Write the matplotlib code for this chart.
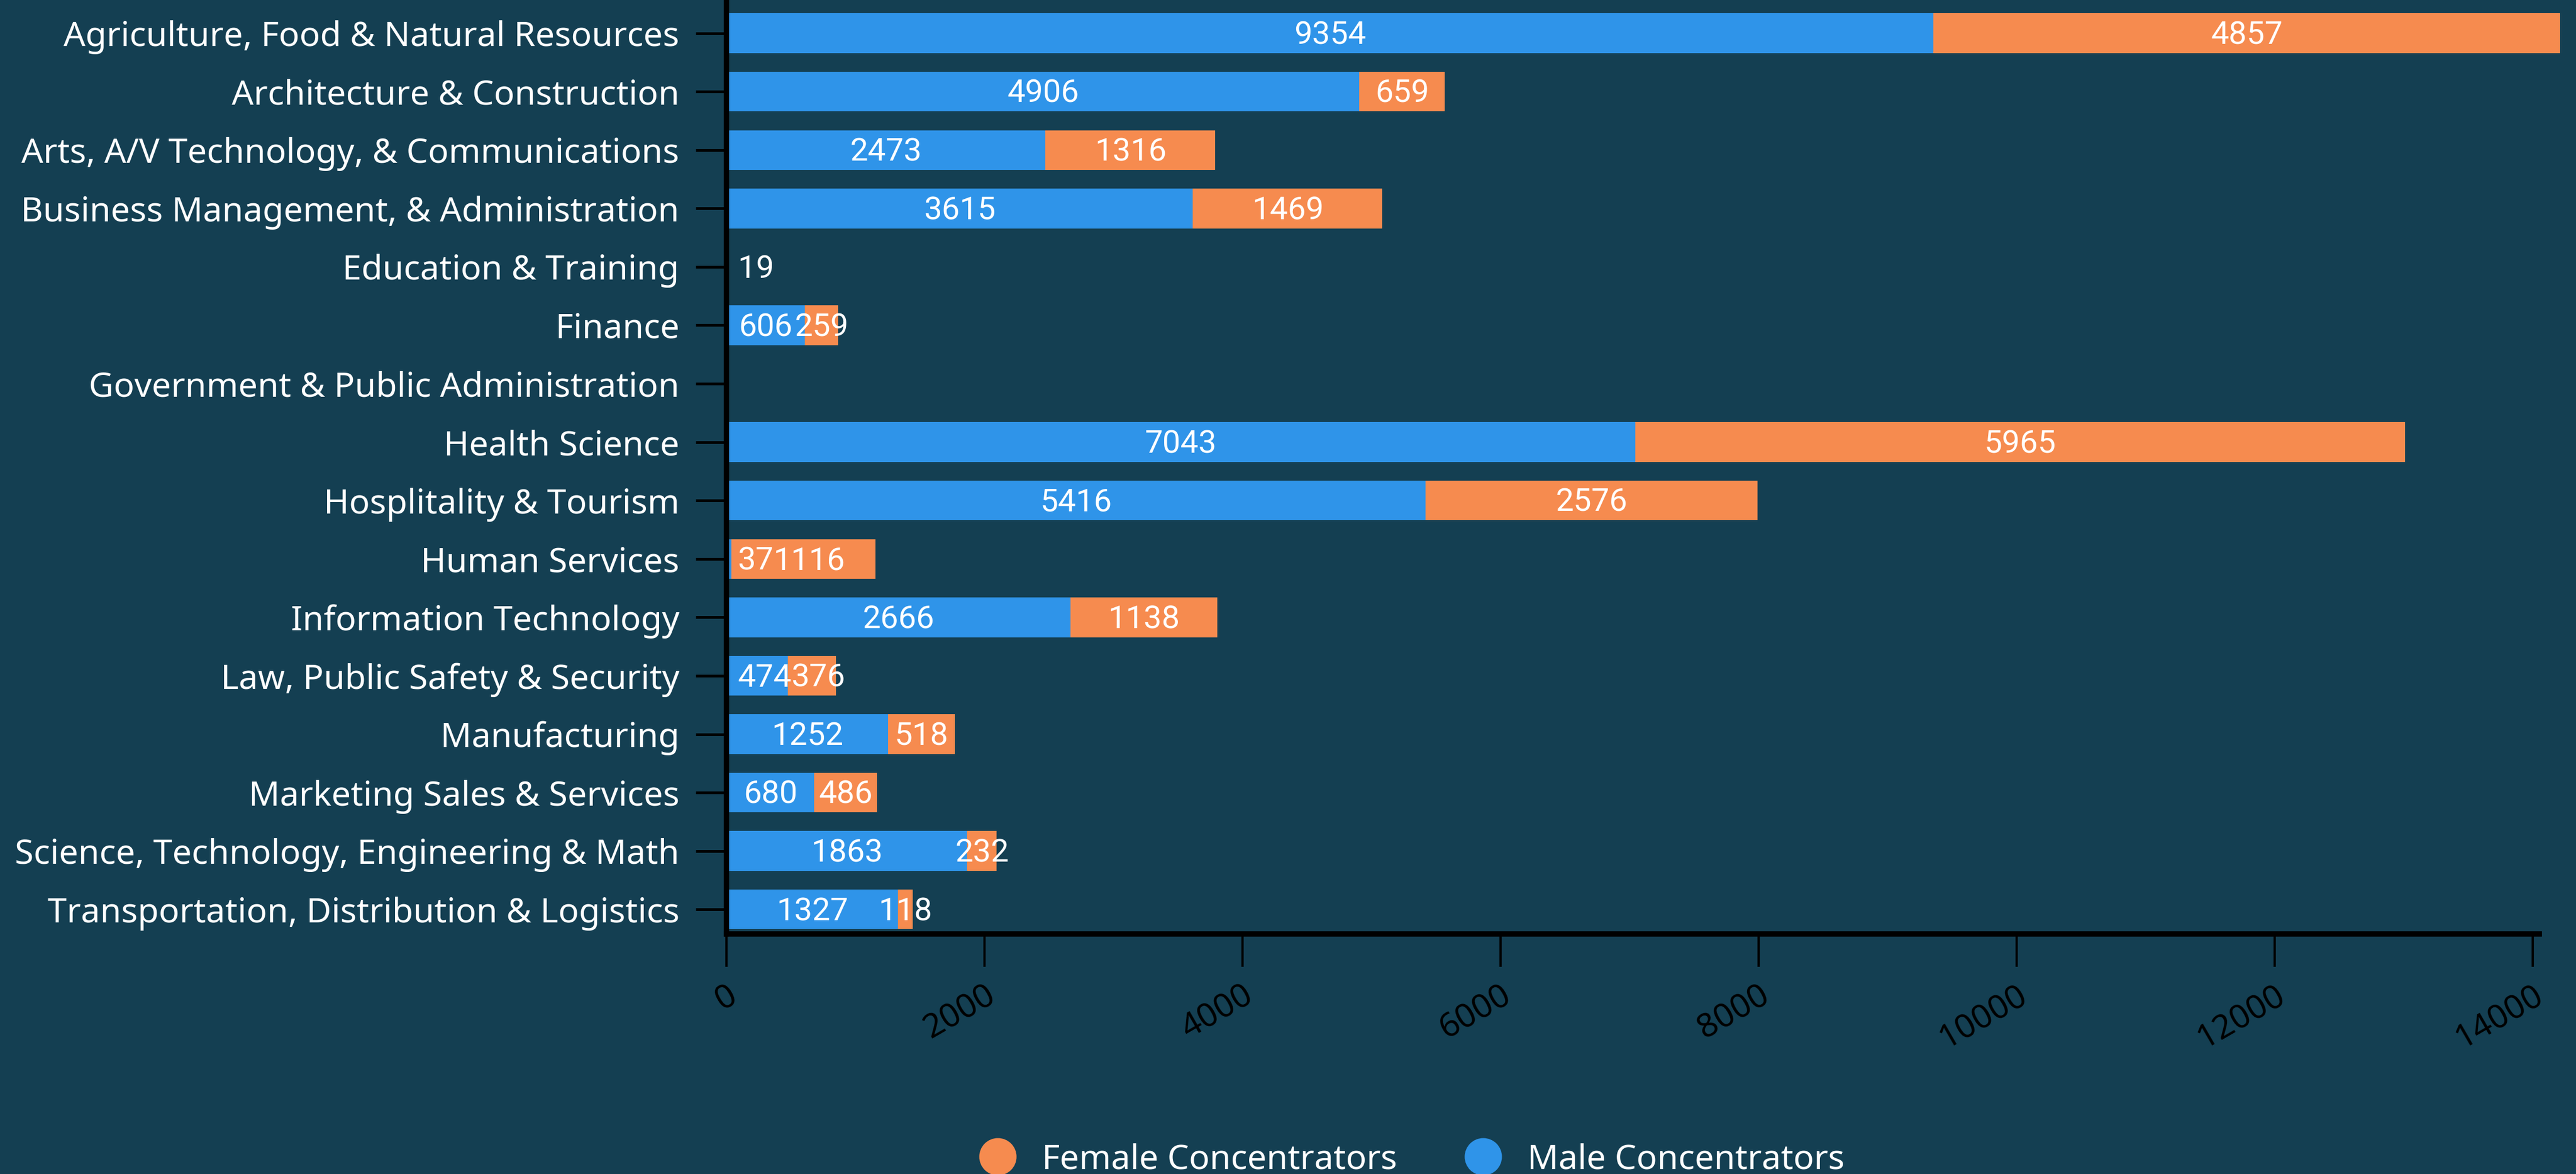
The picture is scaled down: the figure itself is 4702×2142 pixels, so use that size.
import matplotlib
matplotlib.use("Agg")
import matplotlib.pyplot as plt
import matplotlib.transforms as mtransforms
from matplotlib.lines import Line2D
import numpy as np

categories = [
    "Agriculture, Food & Natural Resources",
    "Architecture & Construction",
    "Arts, A/V Technology, & Communications",
    "Business Management, & Administration",
    "Education & Training",
    "Finance",
    "Government & Public Administration",
    "Health Science",
    "Hosplitality & Tourism",
    "Human Services",
    "Information Technology",
    "Law, Public Safety & Security",
    "Manufacturing",
    "Marketing Sales & Services",
    "Science, Technology, Engineering & Math",
    "Transportation, Distribution & Logistics",
]
male = [9354, 4906, 2473, 3615, 1, 606, 0, 7043, 5416, 37, 2666, 474, 1252, 680, 1863, 1327]
female = [4857, 659, 1316, 1469, 9, 259, 0, 5965, 2576, 1116, 1138, 376, 518, 486, 232, 118]
xticks = [0, 2000, 4000, 6000, 8000, 10000, 12000, 14000]

bg = "#143f52"
blue = "#2f94e9"
orange = "#f68b4f"
label_font = ["Noto Sans", "DejaVu Sans"]
num_font = ["Roboto", "DejaVu Sans"]

fig = plt.figure(figsize=(47.02, 21.42), dpi=100, facecolor=bg)
ax = fig.add_axes([1326 / 4702, 1 - 1704 / 2142, (4635 - 1326) / 4702, (1704 - 2) / 2142])
ax.set_facecolor(bg)

y = np.arange(len(categories))
bm = ax.barh(y, male, height=0.68, color=blue, clip_on=False, zorder=2)
bf = ax.barh(y, female, left=male, height=0.68, color=orange, clip_on=False, zorder=2)

ax.set_xlim(0, 14050)
ax.set_ylim(15.42, -0.55)
ax.set_xticks(xticks)
ax.set_xticklabels([str(t) for t in xticks], rotation=30, ha="right", rotation_mode="anchor",
                   family=label_font, fontsize=44, color="#000000")
shift = mtransforms.ScaledTranslation(-20 / 100, 0, fig.dpi_scale_trans)
for lbl in ax.get_xticklabels():
    lbl.set_transform(lbl.get_transform() + shift)
ax.set_yticks(y)
ax.set_yticklabels(categories, family=label_font, fontsize=45, color="white")
ax.tick_params(axis="y", length=40, width=3.6, color="black", pad=22)
ax.tick_params(axis="x", length=43, width=3, color="black", pad=16)
for s in ["top", "right"]:
    ax.spines[s].set_visible(False)
for s in ["left", "bottom"]:
    ax.spines[s].set_linewidth(7)
    ax.spines[s].set_color("black")
    ax.spines[s].set_zorder(3)

# value labels, centred on each segment but kept clear of the axis
texts = []
for i in range(len(categories)):
    row = []
    for start, val in [(0, male[i]), (male[i], female[i])]:
        if val == 0:
            row.append(None)
            continue
        t = ax.text(start + val / 2, i + 0.04, str(val), ha="center", va="center",
                    color="white", fontsize=42, family=num_font, zorder=4)
        row.append(t)
    texts.append(row)

fig.canvas.draw()
r = fig.canvas.get_renderer()
x0 = ax.transData.transform((0, 0))[0] + 20
inv = ax.transData.inverted()
for i, row in enumerate(texts):
    min_left = x0
    for t in row:
        if t is None:
            continue
        bb = t.get_window_extent(r)
        dx = max(0, min_left - bb.x0)
        if dx > 0:
            cx = ax.transData.transform(t.get_position())
            t.set_position(inv.transform((cx[0] + dx, cx[1])))
        min_left = bb.x1 + dx

handles = [
    Line2D([], [], marker="o", linestyle="none", markersize=48, markerfacecolor=orange, markeredgecolor=orange),
    Line2D([], [], marker="o", linestyle="none", markersize=48, markerfacecolor=blue, markeredgecolor=blue),
]
leg = fig.legend(handles, ["Female Concentrators", "Male Concentrators"], loc="center",
                 bbox_to_anchor=(0.545, 0.012), ncol=2, frameon=False, handletextpad=0.3,
                 columnspacing=1.5, prop={"family": label_font, "size": 45})
for txt in leg.get_texts():
    txt.set_color("white")

fig.savefig("out.png", dpi=100, facecolor=bg)
